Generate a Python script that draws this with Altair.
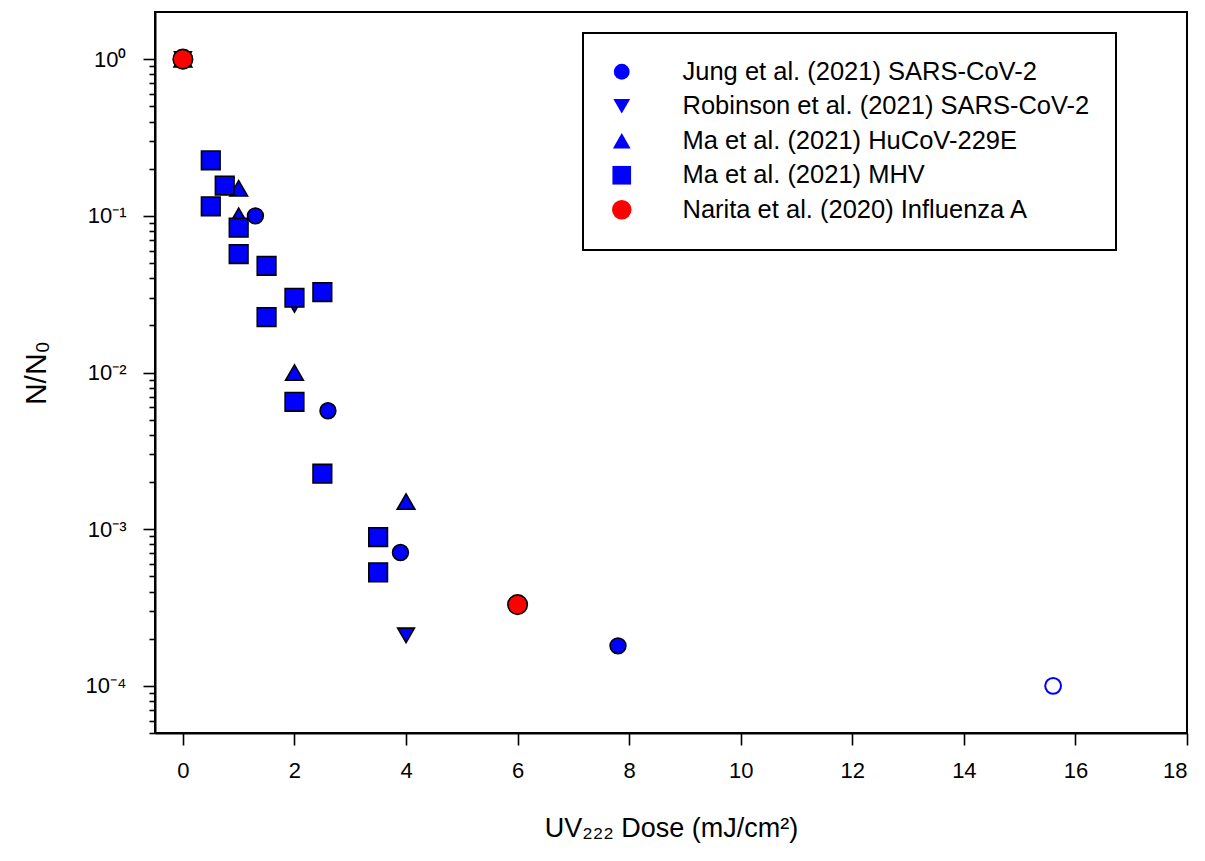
import altair as alt
import pandas as pd

# ---- data ----
series_names = [
    "Jung et al. (2021) SARS-CoV-2",
    "Robinson et al. (2021) SARS-CoV-2",
    "Ma et al. (2021) HuCoV-229E",
    "Ma et al. (2021) MHV",
    "Narita et al. (2020) Influenza A",
]
series_colors = ["#0000FF", "#0000FF", "#0000FF", "#0000FF", "#FF0000"]
series_shapes = ["circle", "triangle-down", "triangle-up", "square", "circle"]
series_sizes = [250, 380, 380, 230, 250]

jung_x = [0, 1.3, 2.6, 3.9, 7.8]
jung_y = [1.0, 0.10, 0.0057, 0.00071, 0.00018]
jung_open_x = [15.6]
jung_open_y = [1.0e-4]
robinson_x = [0, 2, 4]
robinson_y = [1.0, 0.027, 0.00021]
ma229_x = [0, 1, 1, 2, 4]
ma229_y = [1.0, 0.15, 0.10, 0.010, 0.0015]
mhv_x = [0.5, 0.5, 0.75, 1, 1, 1.5, 1.5, 2, 2, 2.5, 2.5, 3.5, 3.5]
mhv_y = [0.226, 0.115, 0.156, 0.084, 0.057, 0.048, 0.0226, 0.030, 0.0065,
         0.0326, 0.00226, 0.00089, 0.00053]
narita_x = [0, 6]
narita_y = [1.0, 0.00033]

x_ticks = [0, 2, 4, 6, 8, 10, 12, 14, 16, 18]
y_ticks = [k * 10.0 ** e for e in range(-5, 1) for k in range(1, 10)
           if 5e-5 <= k * 10.0 ** e <= 1.0]

rows = []
for name, xs, ys in zip(series_names,
                        [jung_x, robinson_x, ma229_x, mhv_x, narita_x],
                        [jung_y, robinson_y, ma229_y, mhv_y, narita_y]):
    for xv, yv in zip(xs, ys):
        rows.append({"dose": xv, "ratio": yv, "series": name})
df = pd.DataFrame(rows)
df_open = pd.DataFrame({"dose": jung_open_x, "ratio": jung_open_y})

FONT = "Arial"
is_pow = "abs(log(datum.value)/LN10 - round(log(datum.value)/LN10)) < 0.001"
e = "round(log(datum.value)/LN10)"
label_expr = (
    f"{is_pow} ? ({e} == 0 ? '10⁰' : {e} == -1 ? '10⁻¹' : {e} == -2 ? '10⁻²' : "
    f"{e} == -3 ? '10⁻³' : {e} == -4 ? '10⁻⁴' : '') : ''"
)

x_enc = alt.X(
    "dose:Q",
    scale=alt.Scale(domain=[-0.5, 18], nice=False, zero=False),
    axis=alt.Axis(
        values=x_ticks, title="UV₂₂₂ Dose (mJ/cm²)", grid=False,
        tickSize=12, labelPadding=15, titlePadding=34, format="d",
    ),
)
y_enc = alt.Y(
    "ratio:Q",
    scale=alt.Scale(type="log", domain=[5e-5, 2], nice=False),
    axis=alt.Axis(
        values=y_ticks, title="N/N₀", grid=False, labelExpr=label_expr,
        tickSize={"condition": {"test": is_pow, "value": 12}, "value": 6},
        labelPadding=17, titlePadding=34, labelOverlap=False, titleFontSize=30,
    ),
)

legend = alt.Legend(title=None, symbolStrokeColor="black", symbolStrokeWidth=1.5,
                    symbolSize=240)

points = alt.Chart(df).mark_point(
    filled=True, opacity=1, stroke="black", strokeWidth=1.6
).encode(
    x=x_enc,
    y=y_enc,
    color=alt.Color("series:N", scale=alt.Scale(domain=series_names, range=series_colors),
                    legend=legend),
    shape=alt.Shape("series:N", scale=alt.Scale(domain=series_names, range=series_shapes),
                    legend=legend),
    size=alt.Size("series:N", scale=alt.Scale(domain=series_names, range=series_sizes),
                  legend=None),
)

open_pts = alt.Chart(df_open).mark_point(
    shape="circle", filled=False, color="#0000FF", size=250, strokeWidth=2, opacity=1
).encode(x="dose:Q", y="ratio:Q")

chart = alt.layer(points, open_pts).properties(
    width=1032,
    height=721,
    background="white",
    autosize=alt.AutoSizeParams(type="none"),
    padding={"left": 147, "top": 4, "right": 10, "bottom": 120},
).configure_view(
    stroke="black", strokeWidth=2, fill="white"
).configure_axis(
    labelFont=FONT, titleFont=FONT, labelFontSize=22, titleFontSize=27,
    labelColor="black", titleColor="black", titleFontWeight="normal",
    domainColor="black", domainWidth=2, tickColor="black", tickWidth=1.6,
).configure_legend(
    orient="none", legendX=428, legendY=21,
    strokeColor="black", strokeWidth=2, fillColor="white",
    padding=26, labelFont=FONT, labelFontSize=25.5, labelColor="black",
    labelLimit=600, labelOffset=48, rowPadding=7.5,
    symbolStrokeColor="black", symbolStrokeWidth=1.5, symbolOpacity=1,
)

chart.save("out.html", embed_options={"renderer": "svg", "actions": False})
